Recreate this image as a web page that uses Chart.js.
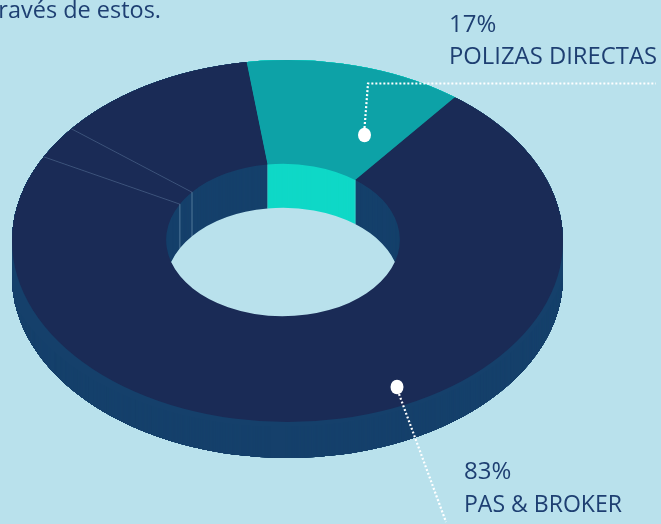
<!DOCTYPE html>
<html><head><meta charset="utf-8">
<style>html,body{margin:0;padding:0;background:#B9E1EC;overflow:hidden}canvas{display:block}</style>
<script src="https://cdn.jsdelivr.net/npm/chart.js@4/dist/chart.umd.min.js"></script>
</head><body>
<canvas id="c" width="661" height="524"></canvas>
<script>
// Data (slice shares)
const categories = ['POLIZAS DIRECTAS', 'PAS & BROKER', 'PAS & BROKER B', 'PAS & BROKER C'];
const sliceValues = [12.7, 72.2, 3.0, 12.1];
const faceColors = ['#0DA2A7', '#1A2B56', '#1A2B56', '#1A2B56'];
const wallColors = ['#0FD8C7', '#15406B', '#15406B', '#15406B'];
const textLabels = [
  {t:'través de estos.', x:-10, y:18,  w:171},
  {t:'17%',              x:449, y:32,  w:48},
  {t:'POLIZAS DIRECTAS', x:449, y:64,  w:208},
  {t:'83%',              x:464, y:479, w:48},
  {t:'PAS & BROKER',     x:464, y:512, w:158}
];
const leaders = [
  {dot:[364.5,135], path:[[364.5,128],[368,83.5],[656,83.5]]},
  {dot:[397,387],   path:[[399,394],[446,522]]}
];

// Projection of the flat doughnut onto the tilted view
const view = {cx:283, cy:240, sx:285/262, sy:186/262};
const rim = {cx:287.5, cy:241, rx:275.5, ry:181};
const rimDepth = 36, wallDepth = 44;

function project(ctx, arc, dy){
  ctx.translate(view.cx, view.cy + dy);
  ctx.scale(view.sx, view.sy);
  ctx.translate(-arc.x, -arc.y);
}
function clipRim(ctx, dy){
  ctx.beginPath();
  ctx.ellipse(rim.cx, rim.cy + dy, rim.rx, rim.ry, 0, 0, Math.PI*2);
  ctx.clip();
}
function clipBody(ctx){
  ctx.beginPath();
  ctx.ellipse(rim.cx, rim.cy, rim.rx, rim.ry, 0, 0, Math.PI*2);
  ctx.closePath();
  ctx.ellipse(rim.cx, rim.cy + rimDepth, rim.rx, rim.ry, 0, 0, Math.PI*2);
  ctx.closePath();
  ctx.rect(rim.cx - rim.rx, rim.cy, rim.rx*2, rimDepth);
  ctx.clip();
}
const tilt3d = {
  id:'tilt3d',
  beforeDatasetDraw(chart){
    const ctx = chart.ctx, arcs = chart.getDatasetMeta(0).data;
    ctx.save();
    clipBody(ctx);
    for (let d = wallDepth; d >= 1; d--) {
      ctx.save();
      project(ctx, arcs[0], d);
      arcs.forEach((a,i)=>{
        ctx.beginPath();
        ctx.arc(a.x, a.y, a.outerRadius, a.startAngle, a.endAngle);
        ctx.arc(a.x, a.y, a.innerRadius, a.endAngle, a.startAngle, true);
        ctx.closePath();
        ctx.fillStyle = wallColors[i];
        ctx.fill();
      });
      ctx.restore();
    }
    ctx.restore();
    ctx.save();
    clipRim(ctx, 0);
    project(ctx, arcs[0], 0);
  },
  afterDatasetDraw(chart){
    const ctx = chart.ctx, arcs = chart.getDatasetMeta(0).data;
    ctx.restore();
    const pt = (a,r,ang)=>[
      view.cx + r*Math.cos(ang)*view.sx,
      view.cy + r*Math.sin(ang)*view.sy
    ];
    // seams between the dark slices on the top face
    ctx.save();
    clipRim(ctx, 0);
    ctx.lineWidth = 0.7;
    ctx.strokeStyle = 'rgba(190,210,235,0.32)';
    arcs.slice(2).forEach(a=>{
      const p = pt(a,a.innerRadius,a.startAngle), q = pt(a,a.outerRadius,a.startAngle);
      ctx.beginPath(); ctx.moveTo(p[0],p[1]); ctx.lineTo(q[0],q[1]); ctx.stroke();
    });
    ctx.restore();
    // seams on the inner wall
    ctx.save();
    ctx.lineWidth = 0.8;
    arcs.forEach((a,i)=>{
      const p = pt(a,a.innerRadius,a.startAngle);
      if (p[1] > view.cy + 10) return;
      ctx.strokeStyle = 'rgba(200,225,240,' + (i>=2 ? .45 : .25) + ')';
      ctx.beginPath(); ctx.moveTo(p[0],p[1]); ctx.lineTo(p[0],p[1]+wallDepth); ctx.stroke();
    });
    ctx.restore();
  },
  afterDraw(chart){
    const ctx = chart.ctx;
    ctx.save();
    leaders.forEach(l=>{
      ctx.setLineDash([2,2]);
      ctx.lineWidth = 2.2;
      ctx.strokeStyle = '#FFFFFF';
      ctx.beginPath();
      l.path.forEach((p,i)=> i ? ctx.lineTo(p[0],p[1]) : ctx.moveTo(p[0],p[1]));
      ctx.stroke();
      ctx.setLineDash([]);
      ctx.fillStyle = '#FFFFFF';
      ctx.beginPath();
      ctx.ellipse(l.dot[0], l.dot[1], 6.5, 7.3, 0, 0, Math.PI*2);
      ctx.fill();
    });
    ctx.fillStyle = '#1E3F72';
    ctx.font = '24px "Open Sans"';
    ctx.textBaseline = 'alphabetic';
    ctx.textAlign = 'left';
    textLabels.forEach(l=> ctx.fillText(l.t, l.x, l.y, l.w));
    ctx.restore();
  }
};

new Chart(document.getElementById('c'), {
  type:'doughnut',
  data:{labels:categories, datasets:[{data:sliceValues, backgroundColor:faceColors, borderWidth:0, hoverOffset:0}]},
  options:{
    responsive:false, animation:false, events:[],
    rotation:-7.6, cutout:'41%',
    layout:{padding:0},
    plugins:{legend:{display:false}, tooltip:{enabled:false}, title:{display:false}}
  },
  plugins:[tilt3d]
});
</script>
</body></html>
